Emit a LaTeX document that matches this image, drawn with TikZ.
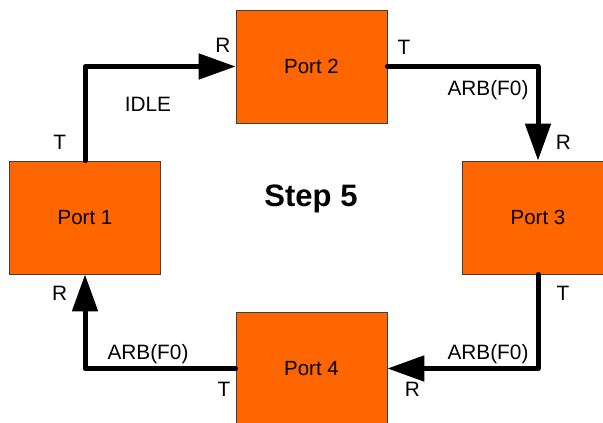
\documentclass[tikz,border=0pt]{standalone}
\usepackage{fontspec}
\setmainfont{Liberation Sans}
\usetikzlibrary{arrows.meta}

\definecolor{portorange}{RGB}{255,102,0}
\tikzset{
  port/.style={draw=black!75, line width=0.8pt, fill=portorange,
    minimum width=151pt, minimum height=113pt, inner sep=0pt,
    font=\fontsize{20.5}{24}\selectfont},
  tag/.style={anchor=base, inner sep=0pt, font=\fontsize{20.8}{24}\selectfont},
  link/.style={line width=5pt, line join=round, line cap=round,
    -{Triangle[length=37pt,width=25pt]}}
}

\begin{document}
\begin{tikzpicture}[x=1pt,y=-1pt]
            \useasboundingbox (0,0) rectangle (603,423);

            \node[port] (port1) at (85,217.5) {Port 1};
            \node[port] (port2) at (311.5,66.5) {Port 2};
            \node[port] (port3) at (538,217.5) {Port 3};
            \node[port] (port4) at (311.5,368.5) {Port 4};
            \node[tag, font=\fontsize{31}{36}\selectfont\bfseries] (step) at (311,206) {Step 5};

            \draw[link] (port1.north) |- (port2.west);
            \draw[link] (port2.east) -| (port3.north);
            \draw[link] (port3.south) |- (port4.east);
            \draw[link] (port4.west) -| (port1.south);

            \node[tag] (t1) at (59.7,149) {T};
            \node[tag] (r2) at (223,52.5) {R};
            \node[tag] (idle) at (148,111) {IDLE};
            \node[tag] (t2) at (404,54) {T};
            \node[tag] (arbtop) at (488,95.5) {ARB(F0)};
            \node[tag] (r3) at (563.5,149.5) {R};
            \node[tag] (t3) at (563,300) {T};
            \node[tag] (arbright) at (488,359.5) {ARB(F0)};
            \node[tag] (r4) at (412.5,396) {R};
            \node[tag] (t4) at (224,396) {T};
            \node[tag] (arbleft) at (148,359.5) {ARB(F0)};
            \node[tag] (r1) at (59.7,300) {R};
        \end{tikzpicture}
\end{document}
